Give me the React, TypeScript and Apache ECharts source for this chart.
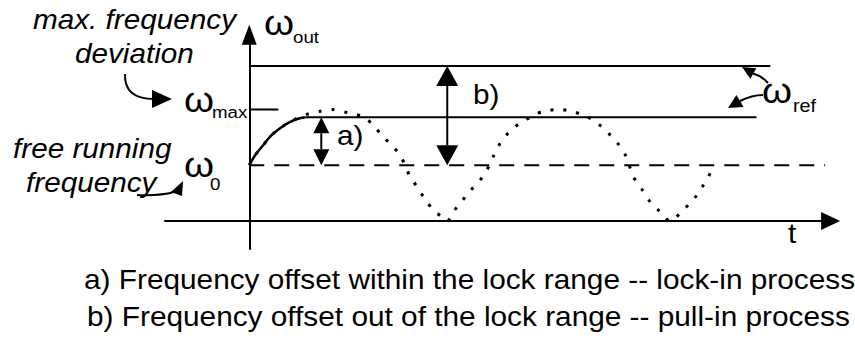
import React, { useEffect, useRef } from "react";
import * as echarts from "echarts";

const FONT = '"Liberation Sans", Arial, Helvetica, sans-serif';

// Axis ranges: time t (y-axis sits at t = 0), frequency ω normalised so that ω0 = 1, ωmax = 2
const tRange = [-2, 13.8];
const wRange = [-0.5, 3.34];

// Horizontal frequency levels
const freeRunT = [0, 13.67];
const freeRunW = [1, 1];
const maxTickT = [0, 0.69];
const maxTickW = [2, 2];
const refInsideT = [1.33, 12.04];
const refInsideW = [1.86, 1.86];
const refOutsideT = [0, 12.37];
const refOutsideW = [2.78, 2.78];

// a) lock-in: output frequency settles on the reference
const lockInT = [0, 0.14, 0.33, 0.5, 0.74, 0.95, 1.14, 1.33];
const lockInW = [1.0, 1.18, 1.36, 1.52, 1.67, 1.77, 1.83, 1.86];

// b) pull-in: output frequency beats between ω0 ± deviation
const pullInT = [
  0, 0.14, 0.33, 0.5, 0.74, 1.02, 1.35, 1.69, 1.99,
  2.35, 2.71, 2.94, 3.18, 3.42, 3.58, 3.7, 3.82, 3.99, 4.18,
  4.37, 4.58, 4.7, 4.84, 5.01, 5.2, 5.41, 5.55, 5.7, 5.8,
  5.96, 6.15, 6.43, 6.72, 6.98, 7.36, 7.69, 8.02, 8.26, 8.52,
  8.74, 8.93, 9.02, 9.12, 9.33, 9.52, 9.76, 9.99, 10.3, 10.54,
  10.75, 10.9, 11.01,
];
const pullInW = [
  1.0, 1.18, 1.36, 1.52, 1.67, 1.8, 1.91, 1.97, 2.0,
  1.94, 1.87, 1.72, 1.51, 1.33, 1.18, 1.0, 0.79, 0.61, 0.38,
  0.2, 0.07, 0.0, 0.16, 0.32, 0.5, 0.68, 0.8, 1.0, 1.17,
  1.4, 1.58, 1.76, 1.88, 1.97, 2.0, 1.96, 1.87, 1.76, 1.58,
  1.4, 1.18, 1.0, 0.79, 0.56, 0.34, 0.16, 0.0, 0.2, 0.38,
  0.61, 0.79, 1.0,
];

// Offset arrows: [t, upper ω, lower ω]
const offsetArrowT = [1.71, 4.7];
const offsetArrowTop = [1.86, 2.78];
const offsetArrowBottom = [1.0, 1.0];

// Texts
const offsetTags = ["a)", "b)"];
const sideNotes = ["max. frequency", "deviation", "free running", "frequency"];
const omegaMain = ["ω", "ω", "ω", "ω"];
const omegaSub = ["out", "max", "0", "ref"];
const timeName = "t";
const captions = [
  "a) Frequency offset within the lock range -- lock-in process",
  "b) Frequency offset out of the lock range -- pull-in process",
];

const zip = (xs: number[], ys: number[]) => xs.map((x, i) => [x, ys[i]]);

// head [width, length] per offset arrow
const HEADS = [
  [16, 16],
  [22, 20],
];

const STRETCH = 1.1;

function label(
  text: string,
  x: number,
  baseline: number,
  fontSize: number,
  italic = false
) {
  return {
    type: "text",
    x,
    y: baseline - 0.35 * fontSize,
    scaleX: STRETCH,
    silent: true,
    style: {
      text,
      fontSize,
      fontFamily: FONT,
      fontStyle: italic ? "italic" : "normal",
      fill: "#000",
      textAlign: "left",
      textVerticalAlign: "middle",
    },
  };
}

function head(tip: number[], a: number[], b: number[]) {
  return {
    type: "polygon",
    silent: true,
    shape: { points: [tip, a, b] },
    style: { fill: "#000" },
  };
}

function curve(
  x1: number, y1: number, cx: number, cy: number, x2: number, y2: number
) {
  return {
    type: "bezierCurve",
    silent: true,
    shape: { x1, y1, cpx1: cx, cpy1: cy, x2, y2 },
    style: { stroke: "#000", lineWidth: 2, fill: "none" },
  };
}

function levelSeries(t: number[], w: number[], extra: any = {}) {
  return {
    type: "line",
    data: zip(t, w),
    symbol: "none",
    silent: true,
    lineStyle: { color: "#000", width: 2, ...extra },
    z: 3,
  };
}

export default function App() {
  const ref = useRef<HTMLDivElement>(null);

  useEffect(() => {
    document.body.style.margin = "0";
    if (!ref.current) return;
    const chart = echarts.init(ref.current, undefined, { renderer: "svg" });

    const axisLine = (size: number[]) => ({
      onZero: true,
      symbol: ["none", "triangle"],
      symbolSize: size,
      lineStyle: { color: "#000", width: 2 },
    });

    chart.setOption({
      animation: false,
      backgroundColor: "#fff",
      grid: {
        left: 165,
        right: 24.4,
        top: 34.8,
        bottom: 98.1,
        containLabel: false,
        outerBoundsMode: "none",
      },
      xAxis: {
        type: "value",
        min: tRange[0],
        max: tRange[1],
        axisLine: axisLine([18, 19]),
        axisTick: { show: false },
        axisLabel: { show: false },
        splitLine: { show: false },
      },
      yAxis: {
        type: "value",
        min: wRange[0],
        max: wRange[1],
        axisLine: axisLine([15, 20]),
        axisTick: { show: false },
        axisLabel: { show: false },
        splitLine: { show: false },
      },
      series: [
        levelSeries(freeRunT, freeRunW, { type: [15, 10] }),
        levelSeries(maxTickT, maxTickW),
        levelSeries(refInsideT, refInsideW),
        levelSeries(refOutsideT, refOutsideW),
        {
          type: "line",
          data: zip(lockInT, lockInW),
          symbol: "none",
          smooth: 0.3,
          silent: true,
          lineStyle: { color: "#000", width: 2.5 },
          z: 4,
        },
        {
          type: "line",
          data: zip(pullInT, pullInW),
          symbol: "none",
          smooth: 0.3,
          smoothMonotone: "none",
          silent: true,
          lineStyle: { color: "#000", width: 3, type: [3, 10] },
          z: 4,
        },
        {
          type: "custom",
          silent: true,
          z: 5,
          data: offsetArrowT.map((t, i) => [t, offsetArrowTop[i], offsetArrowBottom[i]]),
          encode: { x: 0, y: [1, 2] },
          renderItem: (params: any, api: any) => {
            const t = api.value(0);
            const top = api.coord([t, api.value(1)]);
            const bot = api.coord([t, api.value(2)]);
            const [hw, hl] = HEADS[params.dataIndex];
            return {
              type: "group",
              children: [
                {
                  type: "line",
                  shape: { x1: top[0], y1: top[1] + hl, x2: bot[0], y2: bot[1] - hl },
                  style: { stroke: "#000", lineWidth: 2 },
                },
                {
                  type: "polygon",
                  shape: {
                    points: [
                      [top[0], top[1]],
                      [top[0] - hw / 2, top[1] + hl],
                      [top[0] + hw / 2, top[1] + hl],
                    ],
                  },
                  style: { fill: "#000" },
                },
                {
                  type: "polygon",
                  shape: {
                    points: [
                      [bot[0], bot[1]],
                      [bot[0] - hw / 2, bot[1] - hl],
                      [bot[0] + hw / 2, bot[1] - hl],
                    ],
                  },
                  style: { fill: "#000" },
                },
              ],
            };
          },
        },
      ],
      graphic: {
        elements: [
          // side notes
          label(sideNotes[0], 33, 29, 27, true),
          label(sideNotes[1], 75, 63, 27, true),
          label(sideNotes[2], 13, 158, 27, true),
          label(sideNotes[3], 26, 192, 27, true),
          // ω symbols with subscripts
          label(omegaMain[0], 264, 35, 35),
          label(omegaSub[0], 293, 43, 17),
          label(omegaMain[1], 184, 112, 35),
          label(omegaSub[1], 212, 118, 17),
          label(omegaMain[2], 184, 177, 35),
          label(omegaSub[2], 210, 190, 17),
          label(omegaMain[3], 762, 103, 35),
          label(omegaSub[3], 793, 112, 18),
          // offset tags and time label
          label(offsetTags[0], 337, 145, 27),
          label(offsetTags[1], 473, 104, 27),
          label(timeName, 788, 243, 27),
          // captions
          label(captions[0], 84, 289, 27.1),
          label(captions[1], 87, 326, 27.1),
          // pointer: deviation -> ωmax
          curve(125, 74, 124, 99, 154, 99),
          head([172, 99], [152, 90], [152, 108]),
          // pointer: frequency -> ω0
          curve(137, 195, 160, 196, 174, 192),
          head([183, 181], [171, 192], [182, 196]),
          // pointers: ωref -> both reference levels
          curve(768, 83, 762, 76, 753, 73.5),
          head([742, 67], [756.3, 68.3], [750.3, 78.7]),
          curve(763, 95, 752, 95, 740, 101),
          head([728, 108], [743.6, 106.9], [736.4, 94.9]),
        ],
      },
    });

    return () => chart.dispose();
  }, []);

  return <div ref={ref} style={{ width: 855, height: 347 }} />;
}
